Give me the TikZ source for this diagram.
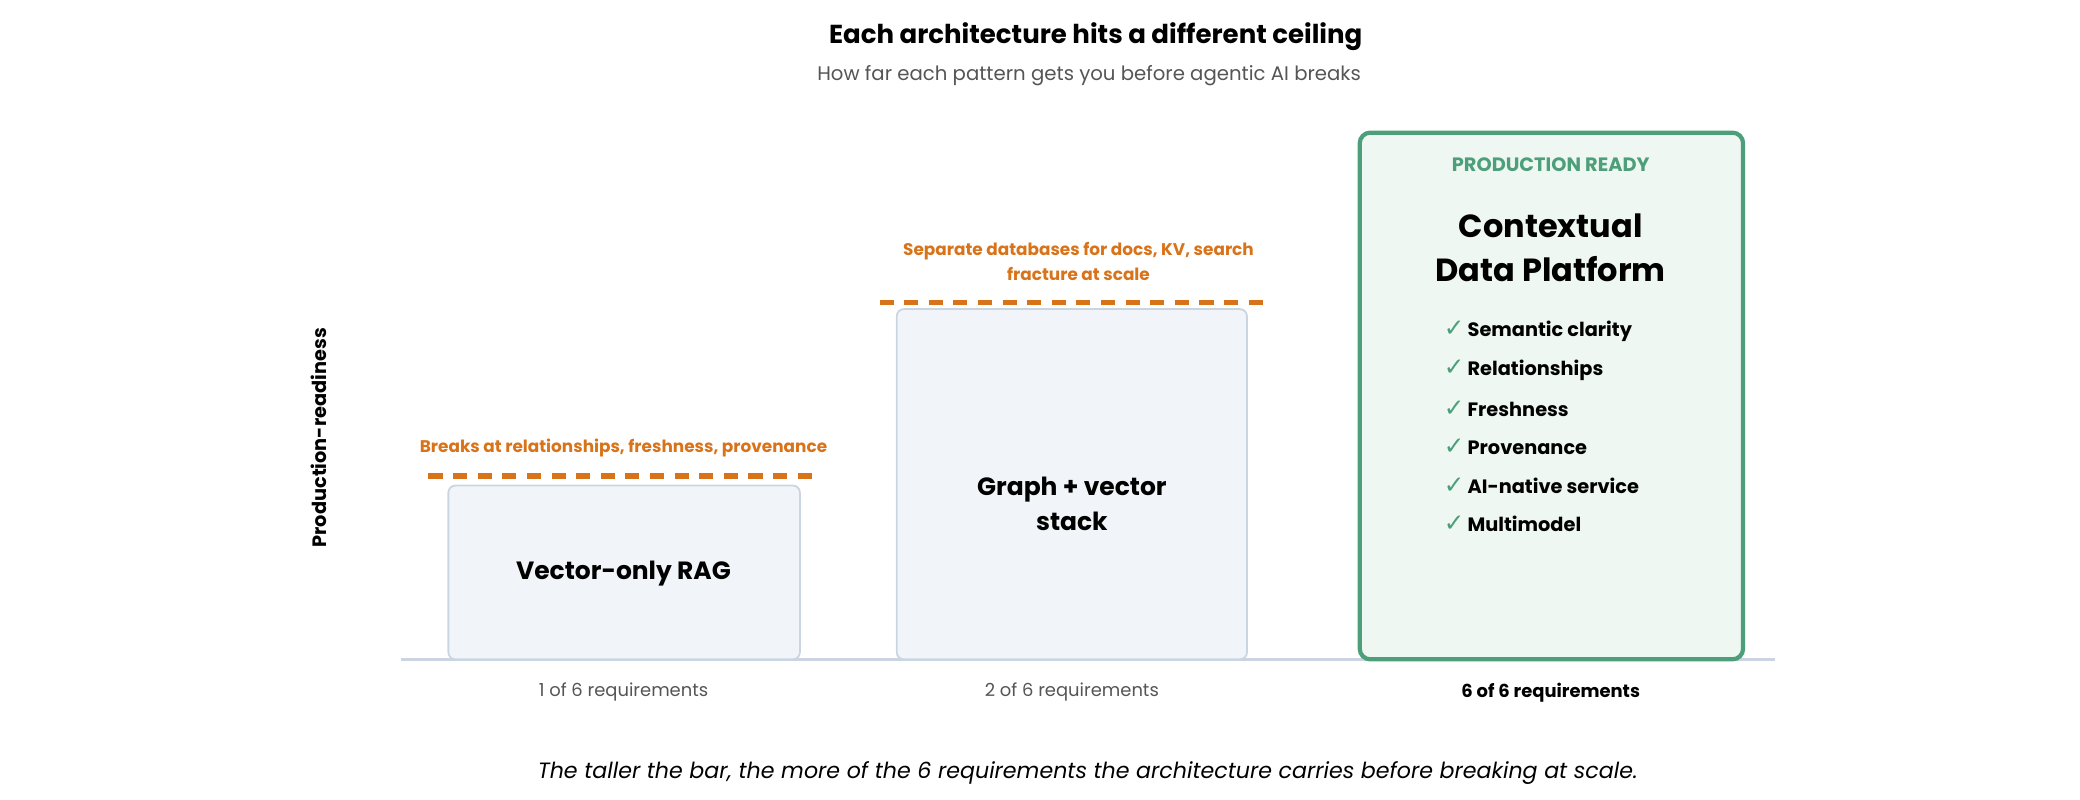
\documentclass[tikz,border=0pt]{standalone}
\usepackage{fontspec}
\setmainfont{Poppins}
\newfontfamily\checkfont{DejaVu Sans}
\usepackage{tikz}
\usetikzlibrary{positioning}
\definecolor{warnorange}{HTML}{D9731A}
\definecolor{readygreen}{HTML}{4C9F78}
\definecolor{readyfill}{HTML}{EEF7F2}
\definecolor{barfill}{HTML}{F1F5F9}
\definecolor{barline}{HTML}{CBD5E1}
\definecolor{subgray}{HTML}{555555}
\begin{document}
\begin{tikzpicture}[
  x=0.013265cm,y=-0.013265cm,
  bar/.style={draw=barline,fill=barfill,rounded corners=2pt,line width=0.5pt},
  ready/.style={draw=readygreen,fill=readyfill,rounded corners=3pt,line width=1.2pt},
  ceiling/.style={warnorange,dashed,line width=1.6pt,dash pattern=on 4pt off 3pt},
  warn/.style={warnorange,font=\fontsize{4.8}{7}\selectfont\bfseries,align=center},
  barname/.style={font=\fontsize{7.1}{10}\selectfont\bfseries,align=center},
  req/.style={subgray,font=\fontsize{5.1}{7}\selectfont},
  check/.style={font=\fontsize{5.5}{7}\selectfont\bfseries,anchor=west}]

  \useasboundingbox (0,0) rectangle (1568,603);

  % Heading
  \node[font=\fontsize{7.4}{11}\selectfont\bfseries] (title) at (826,28) {Each architecture hits a different ceiling};
  \node[subgray,font=\fontsize{5.6}{8}\selectfont] (subtitle) at (821,57) {How far each pattern gets you before agentic AI breaks};

  % Axis
  \coordinate (axisl) at (302,497);
  \coordinate (axisr) at (1338,497);
  \draw[barline,line width=0.8pt] (axisl) -- (axisr);
  \node[rotate=90,font=\fontsize{5.5}{7}\selectfont\bfseries] (ylab) at (240,330) {Production-readiness};

  % Bars
  \draw[bar] (338,366) rectangle (603,497);
  \node[barname] (rag) at (470,432) {Vector-only RAG};
  \draw[bar] (676,233) rectangle (940,497);
  \node[barname] (graph) at (808,380) {Graph + vector\\stack};
  \draw[ready] (1025,100) rectangle (1314,497);

  % Ceilings
  \coordinate (c1l) at (323,359); \coordinate (c1r) at (617,359);
  \coordinate (c2l) at (663,228); \coordinate (c2r) at (953,228);
  \draw[ceiling] (c1l) -- (c1r);
  \draw[ceiling] (c2l) -- (c2r);
  \node[warn] (warn1) at (470,338) {Breaks at relationships, freshness, provenance};
  \node[warn] (warn2) at (813,197) {Separate databases for docs, KV, search\\fracture at scale};

  % Platform box
  \node[readygreen,font=\fontsize{5.5}{7}\selectfont\bfseries] (tag) at (1169,124) {PRODUCTION READY};
  \node[font=\fontsize{9.1}{12.5}\selectfont\bfseries,align=center] (platform) at (1169,187) {Contextual\\Data Platform};
  \foreach \txt [count=\i] in {Semantic clarity,Relationships,Freshness,Provenance,AI-native service,Multimodel}
    \node[check] (chk\i) at (1079,221+29*\i) {{\checkfont\color{readygreen}\mdseries\fontsize{7}{7}\selectfont ✓}\,\txt};

  % Requirement counts
  \node[req] (req1) at (470,522) {1 of 6 requirements};
  \node[req] (req2) at (808,522) {2 of 6 requirements};
  \node[req,black,font=\fontsize{5.1}{7}\selectfont\bfseries] (req3) at (1169,522) {6 of 6 requirements};

  % Footnote
  \node[font=\fontsize{6.3}{8}\selectfont\itshape] (foot) at (820,583) {The taller the bar, the more of the 6 requirements the architecture carries before breaking at scale.};
\end{tikzpicture}
\end{document}
